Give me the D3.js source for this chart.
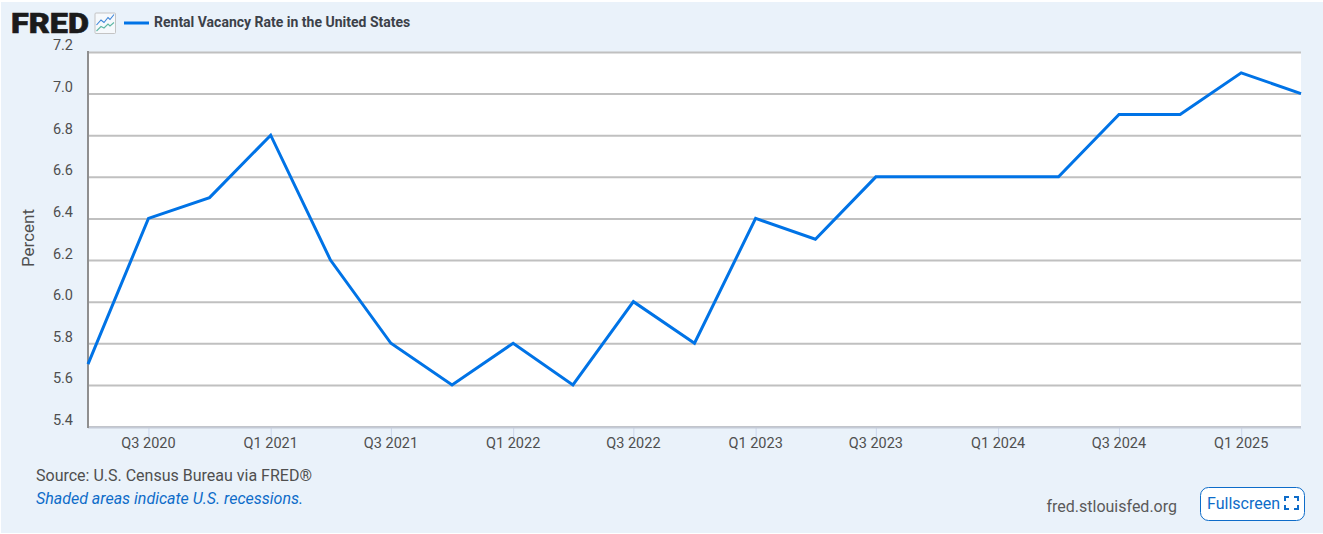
<!DOCTYPE html>
<html>
<head>
<meta charset="utf-8">
<script src="https://cdn.jsdelivr.net/npm/d3@7"></script>
<style>
  html, body { margin: 0; padding: 0; background: #fff; }
  svg { display: block; }
  text { font-family: Roboto, sans-serif; }
</style>
</head>
<body>
<div id="chart"></div>
<script>
var quarters = ["2020-04-01","2020-07-01","2020-10-01","2021-01-01","2021-04-01","2021-07-01","2021-10-01",
  "2022-01-01","2022-04-01","2022-07-01","2022-10-01","2023-01-01","2023-04-01","2023-07-01","2023-10-01",
  "2024-01-01","2024-04-01","2024-07-01","2024-10-01","2025-01-01","2025-04-01"];
var vacancy = [5.7,6.4,6.5,6.8,6.2,5.8,5.6,5.8,5.6,6.0,5.8,6.4,6.3,6.6,6.6,6.6,6.6,6.9,6.9,7.1,7.0];
var yTicks = [5.4,5.6,5.8,6.0,6.2,6.4,6.6,6.8,7.0,7.2];
var xTicks = ["2020-07-01","2021-01-01","2021-07-01","2022-01-01","2022-07-01","2023-01-01","2023-07-01","2024-01-01","2024-07-01","2025-01-01"];
var seriesName = "Rental Vacancy Rate in the United States";

var width = 1323, height = 534;
var parseDate = d3.utcParse("%Y-%m-%d");
var quarterLabel = function(d) {
  return "Q" + (Math.floor(d.getUTCMonth() / 3) + 1) + " " + d.getUTCFullYear();
};

var svg = d3.select("#chart").append("svg")
  .attr("width", width)
  .attr("height", height);

svg.append("rect")
  .attr("x", 1).attr("y", 2)
  .attr("width", 1322).attr("height", 531)
  .attr("fill", "#eaf2fa");

var x = d3.scaleUtc()
  .domain([parseDate(quarters[0]), parseDate(quarters[quarters.length - 1])])
  .range([88, 1301]);
var y = d3.scaleLinear()
  .domain([5.4, 7.2])
  .range([426.5, 52]);

svg.append("rect")
  .attr("x", 88).attr("y", 52)
  .attr("width", 1213).attr("height", 375)
  .attr("fill", "#fff");

// grid and y labels
var yAxis = svg.append("g")
  .attr("transform", "translate(88,0)")
  .call(d3.axisLeft(y).tickValues(yTicks).tickFormat(d3.format(".1f")).tickSize(0).tickPadding(15));
yAxis.select(".domain").remove();
yAxis.selectAll("text")
  .attr("dy", "-0.14em")
  .attr("font-size", 14.5)
  .attr("fill", "#4f4f4f");
yAxis.selectAll(".tick").append("line")
  .attr("x1", 0).attr("x2", 1213)
  .attr("stroke", "#c0c0c0")
  .attr("stroke-width", 2);

// bottom axis
var xAxis = svg.append("g")
  .attr("transform", "translate(0,427)")
  .call(d3.axisBottom(x).tickValues(xTicks.map(parseDate)).tickFormat(quarterLabel).tickSize(10).tickPadding(1));
xAxis.select(".domain").remove();
xAxis.selectAll("line").attr("stroke", "#ccd6eb").attr("stroke-width", 1);
xAxis.selectAll("text")
  .attr("dx", "-0.5")
  .attr("font-size", 14.5)
  .attr("fill", "#4f4f4f");
svg.append("line")
  .attr("x1", 88).attr("x2", 1301)
  .attr("y1", 427.5).attr("y2", 427.5)
  .attr("stroke", "#c4cad6")
  .attr("stroke-width", 2);
svg.append("line")
  .attr("x1", 88).attr("x2", 88)
  .attr("y1", 51).attr("y2", 428)
  .attr("stroke", "#8f8f8f")
  .attr("stroke-width", 2);

svg.append("text")
  .attr("transform", "translate(34,238) rotate(-90)")
  .attr("text-anchor", "middle")
  .attr("font-size", 17)
  .attr("fill", "#4f4f4f")
  .text("Percent");

// series
var line = d3.line()
  .x(function(d, i) { return x(parseDate(quarters[i])); })
  .y(function(d) { return y(d); });

svg.append("path")
  .datum(vacancy)
  .attr("d", line)
  .attr("fill", "none")
  .attr("stroke", "#0073e6")
  .attr("stroke-width", 3)
  .attr("stroke-linejoin", "miter");

// header
svg.append("text")
  .attr("x", 11).attr("y", 33)
  .attr("font-size", 28)
  .attr("font-weight", 900)
  .attr("textLength", 78)
  .attr("lengthAdjust", "spacingAndGlyphs")
  .attr("fill", "#1b1b1b")
  .attr("stroke", "#1b1b1b")
  .attr("stroke-width", 0.6)
  .text("FRED");

var icon = svg.append("g").attr("transform", "translate(95,13)");
icon.append("rect")
  .attr("x", 0).attr("y", 0)
  .attr("width", 20.5).attr("height", 20.5)
  .attr("rx", 1)
  .attr("fill", "#f6f9fc")
  .attr("stroke", "#c4c4c4");
icon.append("path")
  .attr("d", "M1.5 12 L6 7 L9 9.5 L13 4.5 L15 6.5 L19 1.5")
  .attr("fill", "none")
  .attr("stroke", "#3d85d8")
  .attr("stroke-width", 1.1);
icon.append("path")
  .attr("d", "M1.5 18 L6 13.5 L9 15 L13 11 L15 13 L19 9.5")
  .attr("fill", "none")
  .attr("stroke", "#5fb8a5")
  .attr("stroke-width", 1.1);

svg.append("line")
  .attr("x1", 124).attr("x2", 149)
  .attr("y1", 23).attr("y2", 23)
  .attr("stroke", "#0073e6")
  .attr("stroke-width", 3);
svg.append("text")
  .attr("x", 154).attr("y", 27)
  .attr("font-size", 14)
  .attr("font-weight", 700)
  .attr("fill", "#3c4149")
  .text(seriesName);

// footer
svg.append("text")
  .attr("x", 36).attr("y", 481)
  .attr("font-size", 16)
  .attr("fill", "#4f4f4f")
  .text("Source: U.S. Census Bureau via FRED\u00AE");
svg.append("text")
  .attr("x", 36).attr("y", 504)
  .attr("font-size", 16)
  .attr("font-style", "italic")
  .attr("fill", "#0e6cc9")
  .text("Shaded areas indicate U.S. recessions.");
svg.append("text")
  .attr("x", 1177).attr("y", 512)
  .attr("text-anchor", "end")
  .attr("font-size", 16)
  .attr("fill", "#5a5a5a")
  .text("fred.stlouisfed.org");

// fullscreen button
svg.append("rect")
  .attr("x", 1200.5).attr("y", 487.5)
  .attr("width", 104).attr("height", 33)
  .attr("rx", 8)
  .attr("fill", "#fff")
  .attr("stroke", "#0e6cc9");
svg.append("text")
  .attr("x", 1207).attr("y", 509)
  .attr("font-size", 16)
  .attr("fill", "#0e6cc9")
  .text("Fullscreen");
svg.append("path")
  .attr("d", "M1285 501 V497 H1289 M1294 497 H1298 V501 M1298 505 V509 H1294 M1289 509 H1285 V505")
  .attr("fill", "none")
  .attr("stroke", "#0e6cc9")
  .attr("stroke-width", 2);
</script>
</body>
</html>
